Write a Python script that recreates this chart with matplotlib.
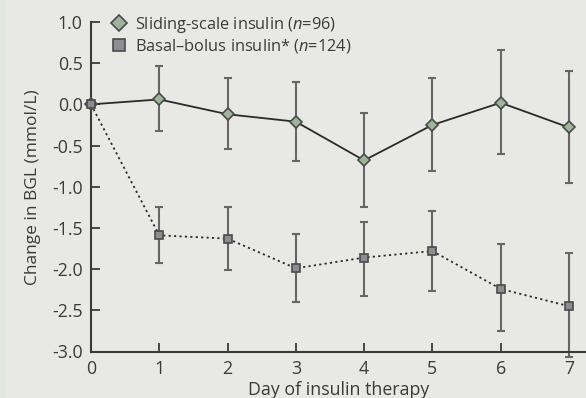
import matplotlib
matplotlib.use("Agg")
import matplotlib.pyplot as plt
from matplotlib.patches import Rectangle
from matplotlib.lines import Line2D

days = [0, 1, 2, 3, 4, 5, 6, 7]

sliding_mean = [0.0, 0.06, -0.12, -0.21, -0.68, -0.25, 0.02, -0.28]
sliding_lo = [0.0, 0.38, 0.42, 0.48, 0.57, 0.56, 0.62, 0.68]
sliding_hi = [0.0, 0.40, 0.44, 0.48, 0.57, 0.57, 0.64, 0.69]

basal_mean = [0.0, -1.59, -1.63, -1.99, -1.86, -1.78, -2.24, -2.45]
basal_lo = [0.0, 0.34, 0.38, 0.41, 0.47, 0.48, 0.51, 0.62]
basal_hi = [0.0, 0.34, 0.38, 0.42, 0.43, 0.49, 0.54, 0.64]

sliding_label = "Sliding-scale insulin ($n$=96)"
basal_label = "Basal\u2013bolus insulin* ($n$=124)"
xlabel = "Day of insulin therapy"
ylabel = "Change in BGL (mmol/L)"
yticks = [1.0, 0.5, 0.0, -0.5, -1.0, -1.5, -2.0, -2.5, -3.0]
yticklabels = ["1.0", "0.5", "0.0", "-0.5", "-1.0", "-1.5", "-2.0", "-2.5", "-3.0"]

FONT = "Open Sans"
plt.rcParams["font.family"] = [FONT, "DejaVu Sans"]
plt.rcParams["mathtext.fontset"] = "custom"
plt.rcParams["mathtext.it"] = FONT + ":italic"
plt.rcParams["mathtext.rm"] = FONT

BG = "#e8e9e4"
TXT = "#3a3a3a"
AX = "#3a3a3a"
GREEN = "#9fb59a"
GRAY = "#8c8d93"
EDGE = "#4a4a4a"

fig = plt.figure(figsize=(5.86, 3.98), dpi=100)
fig.patch.set_facecolor(BG)
fig.patches.append(Rectangle((0, 0), 5 / 586, 1, transform=fig.transFigure,
                             facecolor="#e2eadf", edgecolor="none", zorder=0))

ax = fig.add_axes([91 / 586, 1 - 351.5 / 398, 1 - 91 / 586, (351.5 - 22) / 398])
ax.set_facecolor(BG)

err_col = "#666666"
ax.errorbar(days[1:], sliding_mean[1:], yerr=[sliding_lo[1:], sliding_hi[1:]],
            fmt="none", ecolor=err_col, elinewidth=1.5, capsize=3.2, capthick=1.5,
            zorder=2, clip_on=False)
ax.errorbar(days[1:], basal_mean[1:], yerr=[basal_lo[1:], basal_hi[1:]],
            fmt="none", ecolor=err_col, elinewidth=1.5, capsize=3.2, capthick=1.5,
            zorder=2, clip_on=False)

ax.plot(days, basal_mean, linestyle=(0, (1.2, 1.8)), color="#2a2a2a", lw=1.3,
        marker="s", ms=6.3, mfc=GRAY, mec=EDGE, mew=1.2,
        zorder=4, clip_on=False)
ax.plot(days, sliding_mean, linestyle="-", color="#2a2a2a", lw=1.3,
        marker="D", ms=6.2, mfc=GREEN, mec=EDGE, mew=1.2,
        zorder=3, clip_on=False)

ax.set_xlim(0, 7.25)
ax.set_ylim(-3.0, 1.0)
ax.set_xticks(days)
ax.set_xticklabels([str(d) for d in days])
ax.set_yticks(yticks)
ax.set_yticklabels(yticklabels)

for s in ["top", "right"]:
    ax.spines[s].set_visible(False)
for s in ["left", "bottom"]:
    ax.spines[s].set_color(AX)
    ax.spines[s].set_linewidth(1.5)

ax.tick_params(axis="both", direction="in", length=6.5, width=1.3, color=AX,
               labelsize=12.8, labelcolor=TXT)
ax.tick_params(axis="x", pad=6)
ax.tick_params(axis="y", pad=6)

ax.set_xlabel(xlabel, fontsize=12.8, color=TXT, labelpad=2.5)
ax.set_ylabel(ylabel, fontsize=12.5, color=TXT, labelpad=8)

hs = [Line2D([], [], ls="none", marker="D", ms=8.5, mfc=GREEN, mec=EDGE, mew=1.2),
      Line2D([], [], ls="none", marker="s", ms=8.5, mfc=GRAY, mec=EDGE, mew=1.2)]
leg = fig.legend(hs, [sliding_label, basal_label], loc="upper left",
                 bbox_to_anchor=(111 / 586, 1 - 15 / 398), frameon=False, fontsize=11.8,
                 handlelength=1.0, handletextpad=0.45, labelspacing=0.12,
                 borderaxespad=0, borderpad=0)
for t in leg.get_texts():
    t.set_color(TXT)

fig.savefig("out.png", dpi=100, facecolor=BG)
